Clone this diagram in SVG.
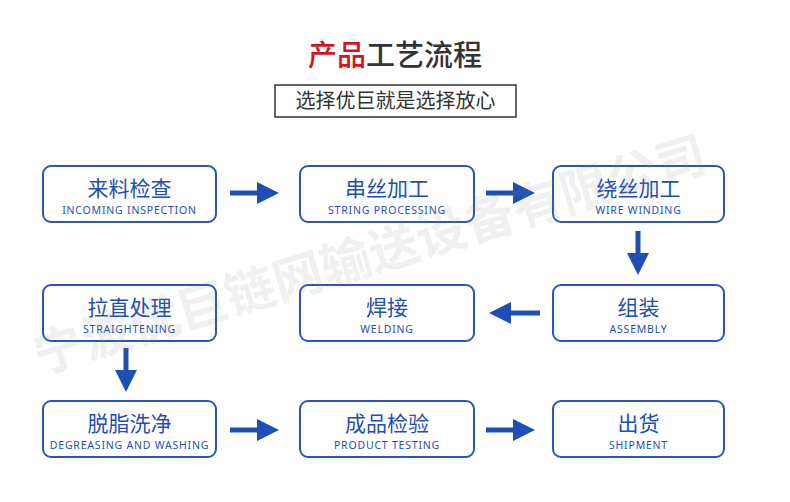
<svg xmlns="http://www.w3.org/2000/svg" width="790" height="502" viewBox="0 0 790 502">
<style>
.b{fill:#fff;stroke:#2a56b8;stroke-width:2}
.cn{font-family:"Noto Sans CJK SC",sans-serif;font-size:21px;fill:#1d4fb5;text-anchor:middle}
.en{font-family:"Noto Sans","Liberation Sans",sans-serif;font-size:10.5px;fill:#1d4fb5;text-anchor:middle;letter-spacing:0.8px}
.a{stroke:#1d4fb5;stroke-width:5;fill:none;marker-end:url(#m)}
</style>
<defs><marker id="m" viewBox="0 0 10 10" refX="5" refY="5" markerWidth="4.4" markerHeight="4.4" orient="auto" markerUnits="strokeWidth"><path d="M0,0L10,5L0,10z" fill="#1d4fb5"/></marker></defs>
<rect width="790" height="502" fill="#fff"/>
<text x="395" y="66" font-family="'Noto Sans CJK SC',sans-serif" font-size="29" text-anchor="middle" font-weight="500" fill="#333"><tspan fill="#d4161c">产品</tspan>工艺流程</text>
<rect x="275" y="85" width="241" height="32" fill="#fff" stroke="#333" stroke-width="1.5"/>
<text x="395.5" y="108" font-family="'Noto Sans CJK SC',sans-serif" font-size="20" text-anchor="middle" fill="#333">选择优巨就是选择放心</text>
<g id="connectors">
<line class="a" x1="230" y1="193" x2="268" y2="193"/>
<line class="a" x1="486" y1="193" x2="524" y2="193"/>
<line class="a" x1="638" y1="231" x2="638" y2="264"/>
<line class="a" x1="540" y1="313" x2="500" y2="313"/>
<line class="a" x1="126" y1="348" x2="126" y2="381"/>
<line class="a" x1="230" y1="430" x2="268" y2="430"/>
<line class="a" x1="486" y1="430" x2="524" y2="430"/>
</g>
<g id="n1"><rect class="b" x="43" y="166" width="173" height="56" rx="8"/><text class="cn" x="129.5" y="196">来料检查</text><text class="en" x="129.5" y="214">INCOMING INSPECTION</text></g>
<g id="n2"><rect class="b" x="300" y="166" width="174" height="56" rx="8"/><text class="cn" x="387" y="196">串丝加工</text><text class="en" x="387" y="214">STRING PROCESSING</text></g>
<g id="n3"><rect class="b" x="553" y="166" width="171" height="56" rx="8"/><text class="cn" x="638.5" y="196">绕丝加工</text><text class="en" x="638.5" y="214">WIRE WINDING</text></g>
<g id="n4"><rect class="b" x="553" y="285" width="171" height="56" rx="8"/><text class="cn" x="638.5" y="315">组装</text><text class="en" x="638.5" y="333">ASSEMBLY</text></g>
<g id="n5"><rect class="b" x="300" y="285" width="174" height="56" rx="8"/><text class="cn" x="387" y="315">焊接</text><text class="en" x="387" y="333">WELDING</text></g>
<g id="n6"><rect class="b" x="43" y="285" width="173" height="56" rx="8"/><text class="cn" x="129.5" y="315">拉直处理</text><text class="en" x="129.5" y="333">STRAIGHTENING</text></g>
<g id="n7"><rect class="b" x="43" y="401" width="173" height="56" rx="8"/><text class="cn" x="129.5" y="431">脱脂洗净</text><text class="en" x="129.5" y="449">DEGREASING AND WASHING</text></g>
<g id="n8"><rect class="b" x="300" y="401" width="174" height="56" rx="8"/><text class="cn" x="387" y="431">成品检验</text><text class="en" x="387" y="449">PRODUCT TESTING</text></g>
<g id="n9"><rect class="b" x="553" y="401" width="171" height="56" rx="8"/><text class="cn" x="638.5" y="431">出货</text><text class="en" x="638.5" y="449">SHIPMENT</text></g>
<text transform="translate(375,272) rotate(-17)" font-family="'Noto Sans CJK SC',sans-serif" font-size="50" font-weight="bold" text-anchor="middle" fill="#888" fill-opacity="0.13">宁波优巨链网输送设备有限公司</text>
</svg>
